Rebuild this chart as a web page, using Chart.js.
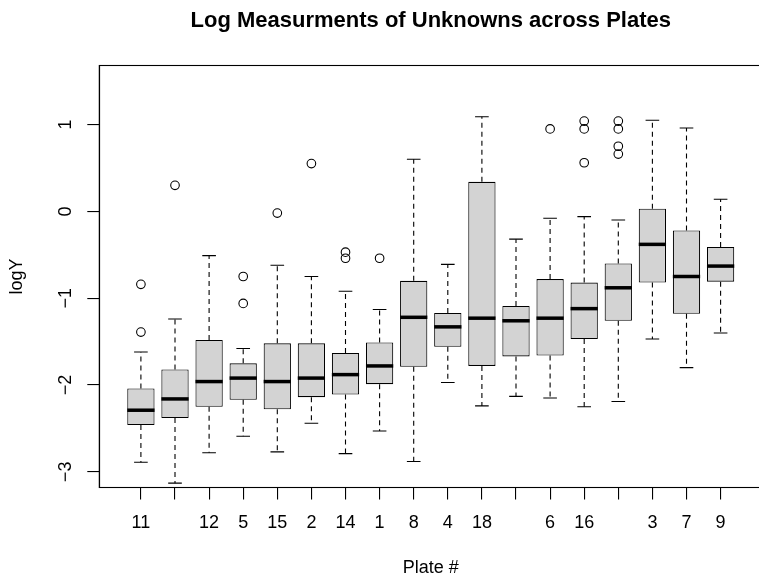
<!DOCTYPE html>
<html>
<head>
<meta charset="utf-8">
<script src="https://cdn.jsdelivr.net/npm/chart.js@4/dist/chart.umd.min.js"></script>
<style>
  html, body { margin: 0; padding: 0; overflow: hidden; background: #fff; }
  canvas { display: block; }
</style>
</head>
<body>
<canvas id="plates" width="770" height="583" style="width:770px;height:583px"></canvas>
<script>
// Plates in plotting order (sorted by median); empty labels are the ones dropped on the axis
const plateLabels = ['11', '', '12', '5', '15', '2', '14', '1', '8', '4', '18', '', '6', '16', '', '3', '7', '9']

// Five-number summaries per plate (log scale)
const whiskerLow = [-2.89, -3.13, -2.78, -2.59, -2.77, -2.44, -2.79, -2.53, -2.88, -1.97, -2.24, -2.13, -2.15, -2.25, -2.19, -1.47, -1.80, -1.40]
const boxLow = [-2.46, -2.38, -2.25, -2.17, -2.28, -2.14, -2.11, -1.99, -1.79, -1.56, -1.78, -1.67, -1.66, -1.47, -1.26, -0.82, -1.18, -0.81]
const medians = [-2.29, -2.16, -1.96, -1.92, -1.96, -1.92, -1.88, -1.78, -1.22, -1.33, -1.23, -1.26, -1.23, -1.12, -0.88, -0.38, -0.75, -0.63]
const boxHigh = [-2.04, -1.82, -1.48, -1.75, -1.52, -1.52, -1.63, -1.51, -0.80, -1.17, 0.34, -1.09, -0.78, -0.82, -0.60, 0.03, -0.22, -0.41]
const whiskerHigh = [-1.62, -1.24, -0.51, -1.58, -0.62, -0.75, -0.92, -1.13, 0.60, -0.61, 1.09, -0.32, -0.08, -0.06, -0.10, 1.05, 0.96, 0.14]

// Points beyond the whiskers
const outliers = [
  [-0.84, -1.39], [0.30], [], [-0.75, -1.06], [-0.02], [0.55],
  [-0.47, -0.54], [-0.54], [], [], [], [],
  [0.95], [1.04, 0.95, 0.56], [1.04, 0.95, 0.75, 0.66], [], [], []
]

const yTicks = [-3, -2, -1, 0, 1]

const FONT = '"Liberation Sans", Arial, Helvetica, sans-serif'
const LABEL_SIZE = 18
Chart.defaults.font.family = FONT
Chart.defaults.color = '#000'

const boxData = plateLabels.map((_, i) => ({ x: i + 1, y: [boxLow[i], boxHigh[i]] }))
const outlierData = []
outliers.forEach((list, i) => {
  for (const v of list) outlierData.push({ x: i + 1, y: v })
})

// Whiskers, staples, medians, frame and the rotated y labels
const boxplotMarks = {
  id: 'boxplotMarks',
  beforeDatasetsDraw(chart) {
    const { ctx, scales: { y } } = chart
    const bars = chart.getDatasetMeta(0).data
    ctx.save()
    ctx.strokeStyle = '#000'
    ctx.lineWidth = 1.1
    bars.forEach((bar, i) => {
      const cx = bar.x
      const staple = bar.width / 4
      ctx.setLineDash([5, 4])
      ctx.beginPath()
      ctx.moveTo(cx, y.getPixelForValue(boxHigh[i]))
      ctx.lineTo(cx, y.getPixelForValue(whiskerHigh[i]))
      ctx.moveTo(cx, y.getPixelForValue(boxLow[i]))
      ctx.lineTo(cx, y.getPixelForValue(whiskerLow[i]))
      ctx.stroke()
      ctx.setLineDash([])
      ctx.beginPath()
      for (const v of [whiskerHigh[i], whiskerLow[i]]) {
        const py = y.getPixelForValue(v)
        ctx.moveTo(cx - staple, py)
        ctx.lineTo(cx + staple, py)
      }
      ctx.stroke()
    })
    ctx.restore()
  },
  afterDatasetsDraw(chart) {
    const { ctx, scales: { y } } = chart
    const bars = chart.getDatasetMeta(0).data
    ctx.save()
    ctx.strokeStyle = '#000'
    ctx.lineWidth = 3.5
    ctx.lineCap = 'butt'
    bars.forEach((bar, i) => {
      const py = y.getPixelForValue(medians[i])
      ctx.beginPath()
      ctx.moveTo(bar.x - bar.width / 2, py)
      ctx.lineTo(bar.x + bar.width / 2, py)
      ctx.stroke()
    })
    ctx.restore()
  },
  afterDraw(chart) {
    const { ctx, chartArea: area, scales: { y } } = chart
    ctx.save()
    ctx.strokeStyle = '#000'
    ctx.lineWidth = 1.1
    ctx.strokeRect(area.left, area.top, area.right - area.left, area.bottom - area.top)

    // y tick labels run along the axis, as in base graphics
    ctx.fillStyle = '#000'
    ctx.font = LABEL_SIZE + 'px ' + FONT
    ctx.textAlign = 'center'
    ctx.textBaseline = 'alphabetic'
    for (const t of y.ticks) {
      ctx.save()
      ctx.translate(area.left - 28.5, y.getPixelForValue(t.value))
      ctx.rotate(-Math.PI / 2)
      ctx.fillText(String(t.value).replace('-', '\u2212'), 0, 0)
      ctx.restore()
    }

    ctx.save()
    ctx.translate(area.left - 77.8, (area.top + area.bottom) / 2)
    ctx.rotate(-Math.PI / 2)
    ctx.fillText('logY', 0, 0)
    ctx.restore()

    ctx.font = 'bold 22px ' + FONT
    ctx.fillText('Log Measurments of Unknowns across Plates', (area.left + area.right) / 2, 27)
    ctx.restore()
  }
}

new Chart(document.getElementById('plates'), {
  type: 'bar',
  data: {
    datasets: [
      {
        type: 'bar',
        data: boxData,
        backgroundColor: '#D3D3D3',
        borderColor: '#000',
        borderWidth: 1.1,
        borderSkipped: false,
        barPercentage: 1,
        categoryPercentage: 0.8
      },
      {
        type: 'scatter',
        data: outlierData,
        pointStyle: 'circle',
        pointRadius: 4.3,
        pointBorderWidth: 1.1,
        pointBorderColor: '#000',
        pointBackgroundColor: 'rgba(0,0,0,0)'
      }
    ]
  },
  options: {
    responsive: false,
    animation: false,
    events: [],
    layout: { padding: { left: 0, top: 65.5, right: 7.8, bottom: 0 } },
    plugins: {
      legend: { display: false },
      tooltip: { enabled: false }
    },
    scales: {
      x: {
        type: 'linear',
        offset: false,
        min: -0.22,
        max: 19.22,
        afterBuildTicks: (scale) => {
          scale.ticks = plateLabels.map((_, i) => ({ value: i + 1 }))
        },
        afterFit: (scale) => { scale.height = 95.5 },
        ticks: {
          autoSkip: false,
          maxRotation: 0,
          padding: 12.7,
          font: { size: LABEL_SIZE },
          callback: (value) => plateLabels[value - 1]
        },
        grid: { offset: false, drawOnChartArea: false, drawTicks: true, tickLength: 12, color: '#000', lineWidth: 1.1 },
        border: { display: true, color: '#000', width: 1.1 },
        title: { display: true, text: 'Plate #', font: { size: LABEL_SIZE }, padding: { top: 0, bottom: 4.2 } }
      },
      y: {
        min: -3.18,
        max: 1.68,
        afterBuildTicks: (scale) => {
          scale.ticks = yTicks.map((v) => ({ value: v }))
        },
        afterFit: (scale) => { scale.width = 99.3 },
        ticks: { display: false },
        grid: { drawOnChartArea: false, drawTicks: true, tickLength: 12, color: '#000', lineWidth: 1.1 },
        border: { display: true, color: '#000', width: 1.1 }
      }
    }
  },
  plugins: [boxplotMarks]
})
</script>
</body>
</html>
